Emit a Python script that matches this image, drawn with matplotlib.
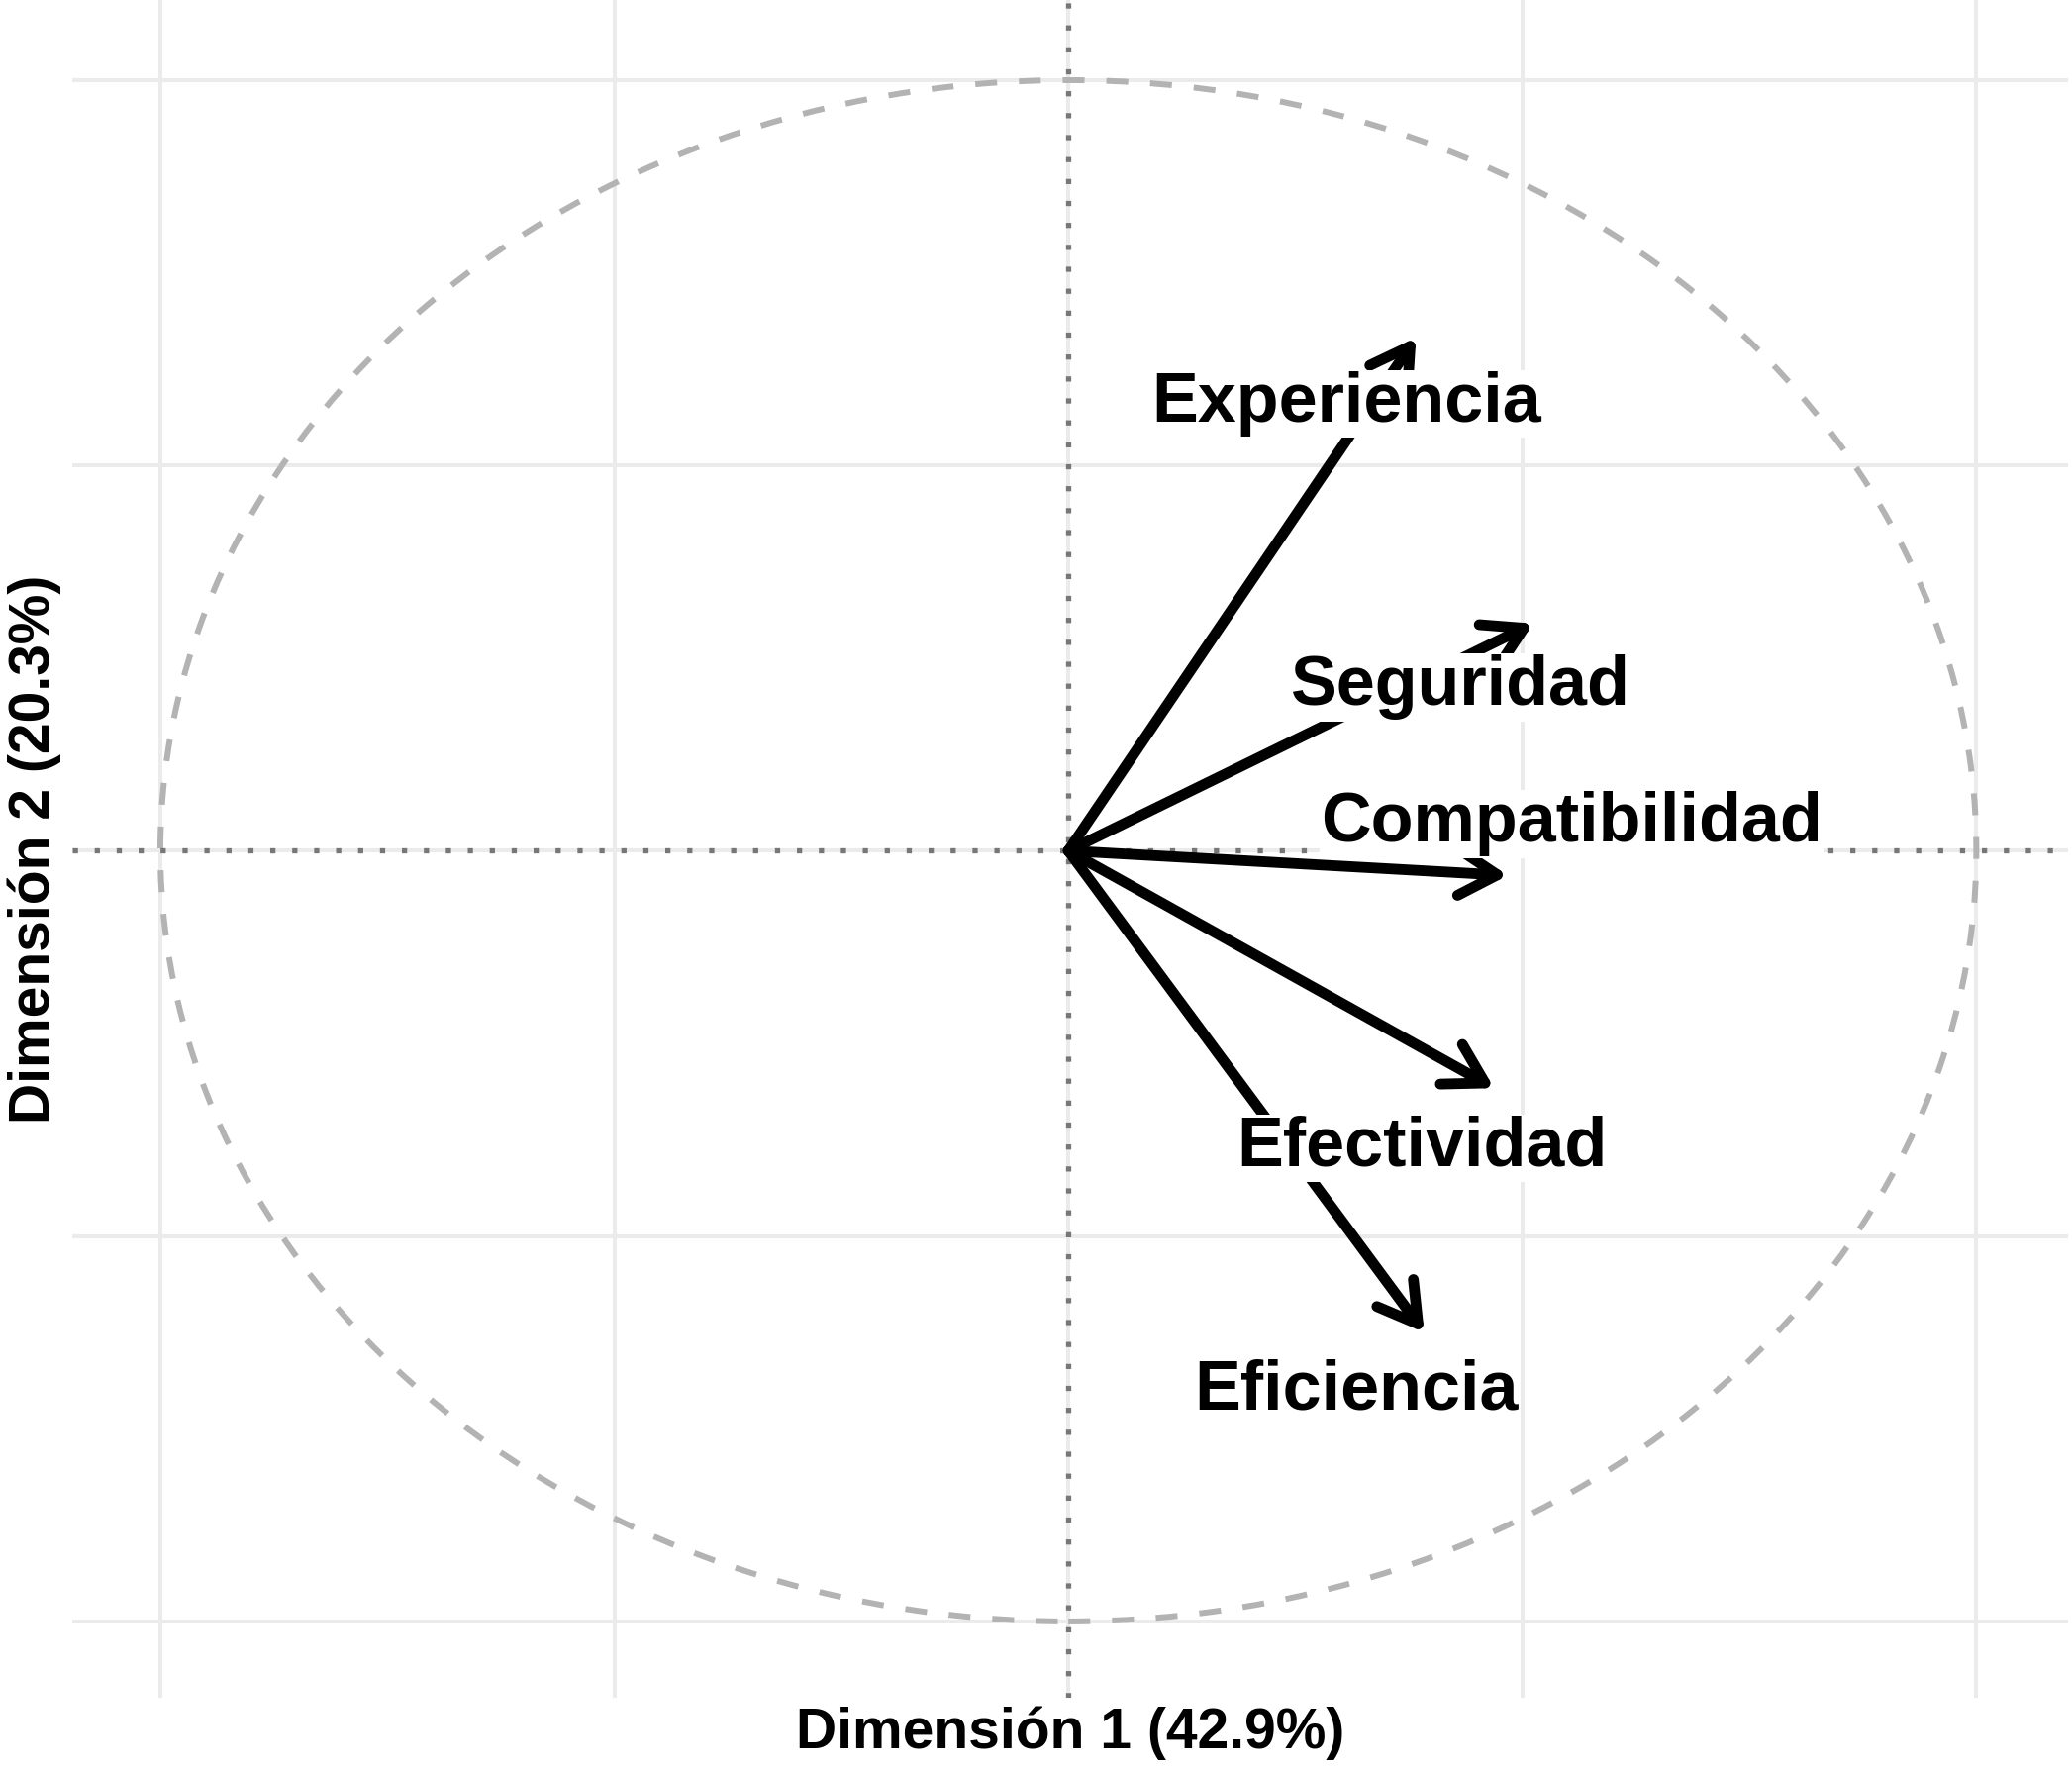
import matplotlib
matplotlib.use('Agg')
import matplotlib.pyplot as plt
from matplotlib.patches import Circle

variables = ['Experiencia', 'Seguridad', 'Compatibilidad', 'Efectividad', 'Eficiencia']
dim1 = [0.383, 0.512, 0.484, 0.469, 0.392]
dim2 = [0.666, 0.295, -0.032, -0.308, -0.625]
label_x = [0.306, 0.431, 0.554, 0.390, 0.317]
label_y = [0.580, 0.212, 0.035, -0.386, -0.701]
xlabel = 'Dimensión 1 (42.9%)'
ylabel = 'Dimensión 2 (20.3%)'
grid_ticks = [-1, -0.5, 0, 0.5, 1]

plt.rcParams['font.family'] = ['Liberation Sans', 'DejaVu Sans']

fig = plt.figure(figsize=(20.93, 17.87), dpi=100)
ax = fig.add_axes([73 / 2093, 72 / 1787, 2016 / 2093, 1715 / 1787])
ax.set_xlim(-1.097, 1.101)
ax.set_ylim(-1.099, 1.104)

ax.set_xticks(grid_ticks)
ax.set_yticks(grid_ticks)
ax.tick_params(length=0, labelbottom=False, labelleft=False)
ax.grid(True, color='#ebebeb', lw=2.9, zorder=0)
ax.set_axisbelow(True)
for s in ax.spines.values():
    s.set_visible(False)

circ = Circle((0, 0), 1, fill=False, ec='#b3b3b3', lw=4.3,
              ls=(0, (3.7, 3.7)), zorder=1)
ax.add_patch(circ)

ax.axhline(0, color='#777777', lw=3.8, ls=(0, (1, 3.2)), zorder=2)
ax.axvline(0, color='#777777', lw=3.8, ls=(0, (1, 3.2)), zorder=2)

for x, y in zip(dim1, dim2):
    ax.annotate('', xy=(x, y), xytext=(0, 0),
                arrowprops=dict(arrowstyle='->,head_length=28,head_width=16.5',
                                lw=7.8, color='black', shrinkA=0, shrinkB=0,
                                mutation_scale=1),
                zorder=3)

for name, lx, ly in zip(variables, label_x, label_y):
    ax.text(lx, ly, name, fontsize=50.5, fontweight='bold', ha='center',
            va='center', zorder=4,
            bbox=dict(boxstyle='square,pad=0.02', fc='white', ec='none'))

ax.set_xlabel(xlabel, fontsize=41, fontweight='bold', labelpad=6)
ax.set_ylabel(ylabel, fontsize=41, fontweight='bold', labelpad=8)

fig.savefig('out.png', dpi=100, facecolor='white')
